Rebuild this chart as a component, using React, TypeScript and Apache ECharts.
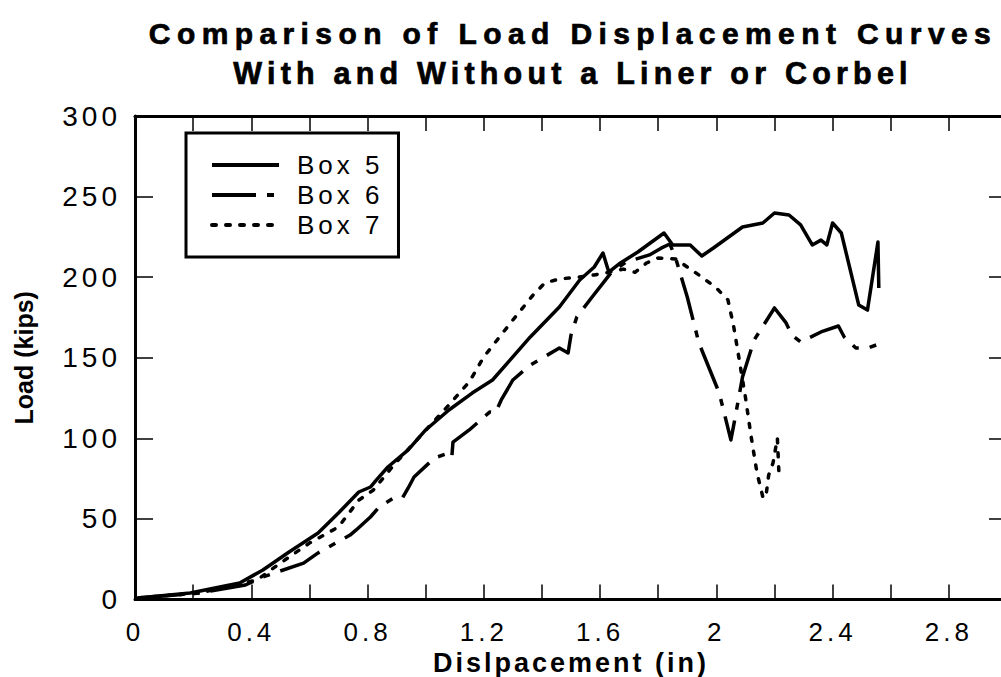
import React, { useEffect, useRef } from "react";
import * as echarts from "echarts";

const titleLine1 = "Comparison of Load Displacement Curves";
const titleLine2 = "With and Without a Liner or Corbel";
const xAxisName = "Dislpacement (in)";
const yAxisName = "Load (kips)";
const seriesNames = ["Box 5", "Box 6", "Box 7"];

const box5: [number, number][] = [
  [0.01, 0.9], [0.19, 4.0], [0.36, 10.2], [0.44, 18.3], [0.53, 29.5], [0.63, 41.3], [0.70, 53.7],
  [0.77, 66.7], [0.81, 69.8], [0.83, 74.1], [0.87, 82.2], [0.94, 92.8], [1.00, 105.2], [1.08, 117.6],
  [1.16, 128.1], [1.23, 136.2], [1.36, 162.9], [1.46, 181.5], [1.53, 198.2], [1.58, 206.3], [1.61, 215],
  [1.63, 203.2], [1.67, 208.8], [1.73, 215.6], [1.82, 227.4], [1.85, 220], [1.91, 220], [1.95, 213.1],
  [1.99, 218.1], [2.09, 231.1], [2.16, 233.6], [2.2, 239.8], [2.25, 238.6], [2.29, 232.4], [2.33, 220],
  [2.36, 223], [2.38, 220], [2.4, 233.6], [2.43, 227.4], [2.49, 182.7], [2.52, 179.6], [2.556, 221.8],
  [2.559, 193.3],
];

const box6: [number, number][] = [
  [0.01, 1], [0.22, 4], [0.38, 9], [0.44, 14], [0.58, 22.6], [0.63, 28.9], [0.74, 40], [0.76, 43],
  [0.81, 51.2], [0.84, 57.4], [0.89, 63], [0.92, 63], [0.94, 69.2], [0.96, 76], [1.03, 87.8], [1.08, 90.9],
  [1.09, 88.5], [1.094, 97.7], [1.15, 105.2], [1.22, 116.3], [1.24, 115.7], [1.26, 123.8], [1.3, 136.2],
  [1.36, 145.5], [1.46, 156], [1.49, 153], [1.5, 164.1], [1.52, 175.3], [1.57, 187.1], [1.64, 203.2],
  [1.69, 209.4], [1.77, 213.8], [1.81, 218], [1.84, 220.6], [1.86, 211.9], [1.9, 187.7], [1.94, 159.2],
  [2.01, 128.1], [2.05, 99], [2.06, 108.3], [2.09, 138], [2.13, 161], [2.2, 180.9], [2.24, 171.6],
  [2.26, 164.1], [2.29, 159.8], [2.36, 166], [2.42, 169.7], [2.44, 162.9], [2.48, 156], [2.52, 156],
  [2.55, 157.9],
];

const box7: [number, number][] = [
  [0.01, 1], [0.22, 4], [0.42, 12.1], [0.5, 22.6], [0.6, 35], [0.7, 45], [0.77, 61.7], [0.82, 67.9],
  [0.89, 83.4], [1.08, 120.7], [1.15, 135], [1.2, 150.5], [1.3, 173.4], [1.37, 189], [1.41, 196.4],
  [1.46, 198.9], [1.53, 200.1], [1.58, 201.4], [1.63, 203], [1.68, 205], [1.72, 203], [1.76, 208.8],
  [1.8, 211.9], [1.86, 211.3], [1.9, 206.3], [1.95, 200.1], [2.0, 193.3], [2.04, 185.9], [2.06, 169.1],
  [2.08, 147.4], [2.1, 125.6], [2.12, 100.8], [2.14, 78.5], [2.16, 63.6], [2.17, 63], [2.18, 77.2],
  [2.195, 84.7], [2.21, 100.2], [2.215, 80],
];

const xMin = 0;
const xMax = 3;
const xStep = 0.2;
const yMin = 0;
const yMax = 300;
const yStep = 50;

const FONT = "'Liberation Sans', Arial, Helvetica, sans-serif";

export default function App() {
  const ref = useRef<HTMLDivElement>(null);
  useEffect(() => {
    if (!ref.current) return;
    const chart = echarts.init(ref.current, null, { renderer: "svg" });
    const lineBase = { color: "#000", width: 3.5 };
    const frameAxisLine = { show: true, onZero: false, lineStyle: { color: "#000", width: 3 } };
    const tickStyle = { color: "#000", width: 1.5 };
    const titleStyle = { fontFamily: FONT, fontWeight: "bold", color: "#000" };
    chart.setOption({
      animation: false,
      backgroundColor: "#fff",
      title: [
        {
          text: titleLine1,
          left: 568,
          top: 13,
          textAlign: "center",
          textStyle: { ...titleStyle, fontSize: 30 },
        },
        {
          text: titleLine2,
          left: 568,
          top: 52,
          textAlign: "center",
          textStyle: { ...titleStyle, fontSize: 30.5 },
        },
      ],
      legend: {
        orient: "vertical",
        left: 186,
        top: 133,
        padding: [19, 35, 19, 24],
        itemGap: 4,
        itemWidth: 67,
        itemHeight: 20,
        borderColor: "#000",
        borderWidth: 3,
        backgroundColor: "#fff",
        data: seriesNames,
        itemStyle: { opacity: 0 },
        lineStyle: { width: 4, color: "#000" },
        textStyle: { fontFamily: FONT, fontSize: 26, color: "#000", padding: [0, 0, 0, 13] },
      },
      grid: { left: 135, right: -6, top: 116, bottom: 77.5, containLabel: false, outerBoundsMode: "none" },
      xAxis: [
        {
          type: "value",
          min: xMin,
          max: xMax,
          interval: xStep,
          position: "bottom",
          name: xAxisName,
          nameLocation: "middle",
          nameGap: 48,
          nameTextStyle: { fontFamily: FONT, fontSize: 27, fontWeight: "bold", color: "#000" },
          axisLine: frameAxisLine,
          axisTick: { show: true, inside: false, length: -15, lineStyle: tickStyle },
          splitLine: { show: false },
          axisLabel: {
            margin: 19,
            fontFamily: FONT,
            fontSize: 26,
            color: "#000",
            formatter: (v: number) => {
              const t = Math.round(v * 10);
              if (t % 4 !== 0 || v >= xMax - 1e-9) return "";
              return String(+v.toFixed(1));
            },
          },
        },
        {
          type: "value",
          min: xMin,
          max: xMax,
          interval: xStep,
          position: "top",
          axisLine: frameAxisLine,
          axisTick: { show: true, inside: false, length: -15, lineStyle: tickStyle },
          splitLine: { show: false },
          axisLabel: { show: false },
        },
      ],
      yAxis: [
        {
          type: "value",
          min: yMin,
          max: yMax,
          interval: yStep,
          position: "left",
          name: yAxisName,
          nameLocation: "middle",
          nameGap: 99,
          nameTextStyle: { fontFamily: FONT, fontSize: 25, fontWeight: "bold", color: "#000" },
          axisLine: frameAxisLine,
          axisTick: { show: true, inside: false, length: -18, lineStyle: tickStyle },
          splitLine: { show: false },
          axisLabel: { margin: 14, fontFamily: FONT, fontSize: 28, color: "#000" },
        },
        {
          type: "value",
          min: yMin,
          max: yMax,
          interval: yStep,
          position: "right",
          axisLine: frameAxisLine,
          axisTick: { show: true, inside: false, length: -18, lineStyle: tickStyle },
          splitLine: { show: false },
          axisLabel: { show: false },
        },
      ],
      series: [
        {
          name: seriesNames[0],
          type: "line",
          data: box5,
          showSymbol: false,
          symbol: "none",
          color: "#000",
          lineStyle: { ...lineBase, type: "solid", join: "round" },
        },
        {
          name: seriesNames[1],
          type: "line",
          data: box6,
          showSymbol: false,
          symbol: "none",
          color: "#000",
          lineStyle: { ...lineBase, type: [44, 11, 7, 11], join: "round" },
        },
        {
          name: seriesNames[2],
          type: "line",
          data: box7,
          showSymbol: false,
          symbol: "none",
          color: "#000",
          lineStyle: { ...lineBase, type: [4, 10], cap: "round", join: "round" },
        },
      ],
    });
    return () => chart.dispose();
  }, []);
  return (
    <>
      <style>{`
        .chart-host text[style*="30px"] { letter-spacing: 6.4px; stroke: #000; stroke-width: 0.7px; }
        .chart-host text[style*="30.5px"] { letter-spacing: 5.2px; stroke: #000; stroke-width: 0.7px; }
        .chart-host text[style*="28px"] { letter-spacing: 4px; }
        .chart-host text[style*="27px"] { letter-spacing: 3px; }
        .chart-host text[style*="26px"] { letter-spacing: 4px; }
      `}</style>
      <div
        ref={ref}
        className="chart-host"
        style={{ position: "absolute", left: 0, top: 0, width: 1001, height: 677 }}
      />
    </>
  );
}
